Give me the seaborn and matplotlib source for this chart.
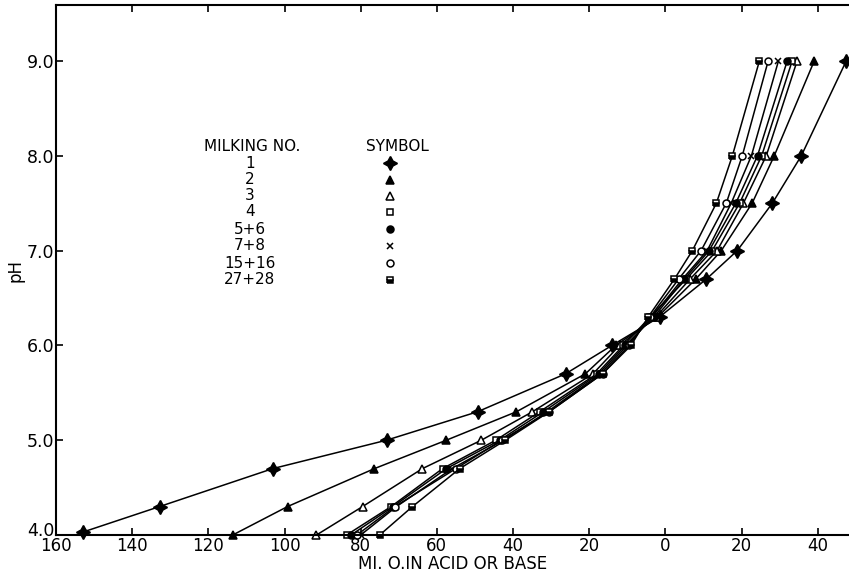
import matplotlib
matplotlib.use("Agg")
import matplotlib.pyplot as plt
import matplotlib.transforms as mtransforms
import seaborn as sns
import pandas as pd
import numpy as np
from matplotlib.lines import Line2D

sns.set_style("ticks")
plt.rcParams['font.family'] = ['DejaVu Sans']
plt.rcParams['text.color'] = 'black'
plt.rcParams['axes.labelcolor'] = 'black'
plt.rcParams['xtick.color'] = 'black'
plt.rcParams['ytick.color'] = 'black'

# pH levels at which readings were taken
ph_levels = [4.0, 4.3, 4.7, 5.0, 5.3, 5.7, 6.0, 6.3, 6.7, 7.0, 7.5, 8.0, 9.0]
ph_levels_1 = [4.03, 4.3, 4.7, 5.0, 5.3, 5.7, 6.0, 6.3, 6.7, 7.0, 7.5, 8.0, 9.0]

# ml 0.1N acid (negative) or base (positive) for each milking
milk_1 = [-153, -132.8, -103.1, -73.2, -49.3, -26.2, -14, -1.5, 10.8, 18.9, 28.1, 35.7, 47.5]
milk_2 = [-113.6, -99.2, -76.4, -57.5, -39.1, -21, -13, -2, 8, 14.7, 22.8, 28.6, 39.1]
milk_3 = [-91.6, -79.5, -63.8, -48.3, -34.9, -19, -12, -2.5, 6.5, 13.6, 20.5, 26.5, 34.6]
milk_4 = [-83.7, -72, -58.5, -44.5, -33, -18, -11, -4, 5.5, 12.3, 19.5, 25.3, 33.3]
milk_5_6 = [-82.5, -71.5, -57.5, -43.5, -32, -17.5, -10.5, -3, 5, 11.5, 18.5, 24.2, 32]
milk_7_8 = [-80, -70.6, -56, -42.5, -31, -17, -10, -3.5, 4.5, 11, 17.3, 22.6, 29.7]
milk_15_16 = [-81, -71, -55, -43, -30.5, -16.5, -9.5, -4, 3.5, 9.4, 16, 20.2, 27]
milk_27_28 = [-75, -66.4, -54, -42, -30.5, -16.5, -9, -4.5, 2.4, 7.1, 13.4, 17.6, 24.7]

milking_labels = ["1", "2", "3", "4", "5+6", "7+8", "15+16", "27+28"]
series = [milk_1, milk_2, milk_3, milk_4, milk_5_6, milk_7_8, milk_15_16, milk_27_28]
series_ph = [ph_levels_1] + [ph_levels] * 7

x_ticks = [-160, -140, -120, -100, -80, -60, -40, -20, 0, 20, 40]
x_tick_labels = ["160", "140", "120", "100", "80", "60", "40", "20", "0", "20", "40"]
y_ticks = [4.0, 5.0, 6.0, 7.0, 8.0, 9.0]
y_tick_labels = ["4.0", "5.0", "6.0", "7.0", "8.0", "9.0"]

styles = [
    dict(marker=(4, 1, 0), markerfacecolor='black', markersize=10, fillstyle='full'),
    dict(marker='^', markerfacecolor='black', markersize=6, fillstyle='full'),
    dict(marker='^', markerfacecolor='white', markersize=6, fillstyle='full'),
    dict(marker='s', markerfacecolor='white', markersize=5, fillstyle='full'),
    dict(marker='o', markerfacecolor='black', markersize=5, fillstyle='full'),
    dict(marker='x', markerfacecolor='black', markersize=5, fillstyle='full'),
    dict(marker='o', markerfacecolor='white', markersize=5, fillstyle='full'),
    dict(marker='s', markerfacecolor='black', markersize=5, fillstyle='bottom'),
]

fig = plt.figure(figsize=(8.49, 5.76), dpi=100)
ax = fig.add_axes([56/849, 41/576, 1 - 56/849 - 0.001, (535 - 5)/576])

for lab, vals, phs, st in zip(milking_labels, series, series_ph, styles):
    df = pd.DataFrame({"x": vals, "pH": phs})
    sns.lineplot(data=df, x="x", y="pH", sort=False, ax=ax, color='black',
                 linewidth=1.1, markeredgecolor='black', markeredgewidth=1.1,
                 markerfacecoloralt='white', clip_on=False, **st)

ax.set_xlim(-160, 48.0)
ax.set_ylim(4.0, 9.59)
ax.set_xticks(x_ticks)
ax.set_xticklabels(x_tick_labels, fontsize=12)
ax.set_yticks(y_ticks)
ax.set_yticklabels(y_tick_labels, fontsize=12.5)
ax.tick_params(direction='in', length=5, width=1.2, top=True, right=False)
ax.tick_params(axis='x', pad=1.5)
ax.tick_params(axis='y', pad=1)
# lift the corner "4.0" label slightly so it does not collide with "160"
lbl40 = ax.get_yticklabels()[0]
lbl40.set_transform(lbl40.get_transform() + mtransforms.ScaledTranslation(0, 6/100, fig.dpi_scale_trans))
for sp in ax.spines.values():
    sp.set_linewidth(1.5)
    sp.set_color('black')
ax.spines['right'].set_visible(False)
ax.set_xlabel("MI. O.IN ACID OR BASE", fontsize=12, labelpad=0)
ax.set_ylabel("pH", fontsize=12, labelpad=2)

# legend table
W, H = 849, 576
fig.text(252/W, 1 - 147/H, "MILKING NO.", ha='center', va='center', fontsize=11)
fig.text(397/W, 1 - 147/H, "SYMBOL", ha='center', va='center', fontsize=11)
rows_y = [163, 180, 196, 212, 229, 246, 263, 280]
for lab, st, yy in zip(milking_labels, styles, rows_y):
    fig.text(250/W, 1 - yy/H, lab, ha='center', va='center', fontsize=11)
    ln = Line2D([390/W], [1 - yy/H], transform=fig.transFigure, color='black',
                markeredgecolor='black', markeredgewidth=1.1, markerfacecoloralt='white',
                linestyle='none', **st)
    fig.add_artist(ln)

fig.savefig("out.png", dpi=100)
